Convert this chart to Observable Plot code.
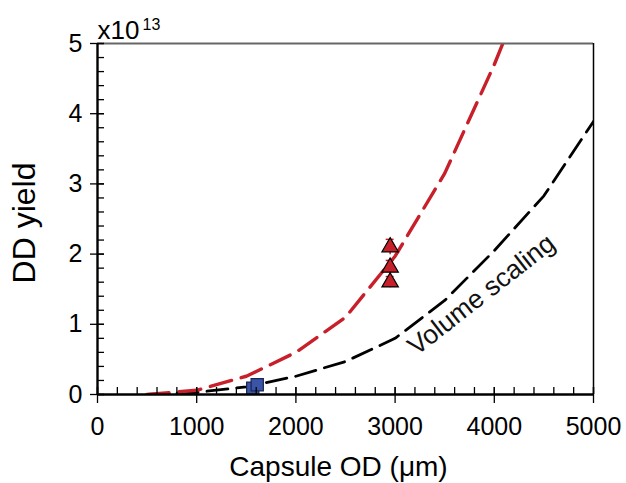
<!DOCTYPE html>
<html><head><meta charset="utf-8">
<script src="https://cdn.jsdelivr.net/npm/d3@7"></script>
<script src="https://cdn.jsdelivr.net/npm/@observablehq/plot@0.6"></script>
<style>html,body{margin:0;padding:0;background:#fff}#chart{width:626px;height:483px}</style>
</head><body><div id="chart"></div>
<script>
// ---- data ----
const odTicks = [0, 1000, 2000, 3000, 4000, 5000];
const yieldTicks = [0, 1, 2, 3, 4, 5];
const redCurveOD = [500, 1000, 1500, 2000, 2500, 3000, 3500, 4000, 4100];
const redCurveYield = [0, 0.06, 0.26, 0.6, 1.1, 1.97, 3.15, 4.7, 5.05];
const volCurveOD = [500, 1000, 1500, 2000, 2500, 3000, 3500, 4000, 4500, 5000];
const volCurveYield = [0, 0.03, 0.11, 0.26, 0.47, 0.8, 1.34, 2.05, 2.83, 3.89];
const squareOD = [1565, 1610];
const squareYield = [0.09, 0.14];
const triOD = [2950, 2950, 2950];
const triYield = [2.1, 1.81, 1.6];
const triErr = [0.11, 0.1, 0.08];
const curveLabel = "Volume scaling";
const labelOD = 3870, labelYield = 1.42;

// ---- derived tables ----
const red = redCurveOD.map((x, i) => ({x, y: redCurveYield[i]}));
const vol = volCurveOD.map((x, i) => ({x, y: volCurveYield[i]}));
const squares = squareOD.map((x, i) => ({x, y: squareYield[i]}));
const tris = triOD.map((x, i) => ({x, y: triYield[i], e: triErr[i]}));
const minorX = d3.range(0, 5001, 200);
const minorY = d3.range(0, 5.001, 0.2);

const W = 626, H = 483, mL = 97, mR = 33, mT = 43, mB = 89;
const pw = W - mL - mR, ph = H - mT - mB;
const RED = "#c8202a";
const FONT = "Liberation Sans, Arial, sans-serif";

const chart = Plot.plot({
  width: W, height: H,
  marginLeft: mL, marginRight: mR, marginTop: mT, marginBottom: mB,
  style: {fontFamily: FONT, background: "#fff", overflow: "visible"},
  x: {domain: [0, 5000]},
  y: {domain: [0, 5]},
  marks: [
    // tick labels
    Plot.axisX(odTicks, {tickSize: 0, tickPadding: 23, fontSize: 25, fill: "#000", label: null, tickFormat: d => String(d)}),
    Plot.axisY(yieldTicks, {tickSize: 0, tickPadding: 15, fontSize: 25, fill: "#000", label: null, tickFormat: d => String(d)}),
    // curves
    Plot.line(vol, {x: "x", y: "y", stroke: "#000", strokeWidth: 2.8, strokeDasharray: "21,9", clip: true}),
    Plot.line(red, {x: "x", y: "y", stroke: RED, strokeWidth: 3.4, strokeDasharray: "22,10", clip: true}),
    // error bars
    Plot.ruleX(tris, {x: "x", y1: d => d.y - d.e, y2: d => d.y + d.e, stroke: RED, strokeWidth: 1.5}),
    Plot.ruleY(tris, {y: d => d.y + d.e, x1: d => d.x - 40, x2: d => d.x + 40, stroke: RED, strokeWidth: 1.5}),
    // markers
    Plot.dot(squares, {x: "x", y: "y", symbol: "square", r: 6.9, fill: "#3a55a8", stroke: "#1a2450", strokeWidth: 1.2}),
    Plot.dot(tris, {x: "x", y: "y", symbol: "triangle", r: 6.1, fill: RED, stroke: "#000", strokeWidth: 1.2}),
    // frame
    Plot.ruleY([5], {stroke: "#666", strokeWidth: 2.2}),
    Plot.ruleX([5000], {stroke: "#000", strokeWidth: 1.5}),
    Plot.ruleX([0], {stroke: "#000", strokeWidth: 2.4}),
    Plot.ruleY([0], {stroke: "#000", strokeWidth: 2.4}),
    // minor / major ticks
    Plot.tickX(minorX, {x: d => d, insetTop: ph - 7, stroke: "#000", strokeWidth: 1.3}),
    Plot.tickX(odTicks, {x: d => d, insetTop: ph - 7, insetBottom: -9, stroke: "#000", strokeWidth: 1.3}),
    Plot.tickY(minorY, {y: d => d, insetRight: pw - 7, stroke: "#000", strokeWidth: 1.3}),
    Plot.tickY(yieldTicks, {y: d => d, insetRight: pw - 7, insetLeft: -7, stroke: "#000", strokeWidth: 1.3}),
    // annotation
    Plot.text([curveLabel], {x: () => labelOD, y: () => labelYield, rotate: -38, fontSize: 26.5, fill: "#111"}),
    // axis titles
    Plot.text(["Capsule OD (\u03bcm)"], {frameAnchor: "bottom", textAnchor: "middle", lineAnchor: "middle", dx: -7, dy: 73, fontSize: 28, fill: "#000"}),
    Plot.text(["DD yield"], {frameAnchor: "left", textAnchor: "middle", lineAnchor: "middle", dx: -73, dy: 4, rotate: -90, fontSize: 32, fill: "#000", style: "letter-spacing:1.5px"}),
    // multiplier
    Plot.text(["x10"], {frameAnchor: "top-left", dx: 0, dy: -5, textAnchor: "start", lineAnchor: "bottom", fontSize: 26, fill: "#000"}),
    Plot.text(["13"], {frameAnchor: "top-left", dx: 45, dy: -14, textAnchor: "start", lineAnchor: "bottom", fontSize: 16, fill: "#000"})
  ]
});
document.getElementById("chart").appendChild(chart);
</script>
</body></html>
